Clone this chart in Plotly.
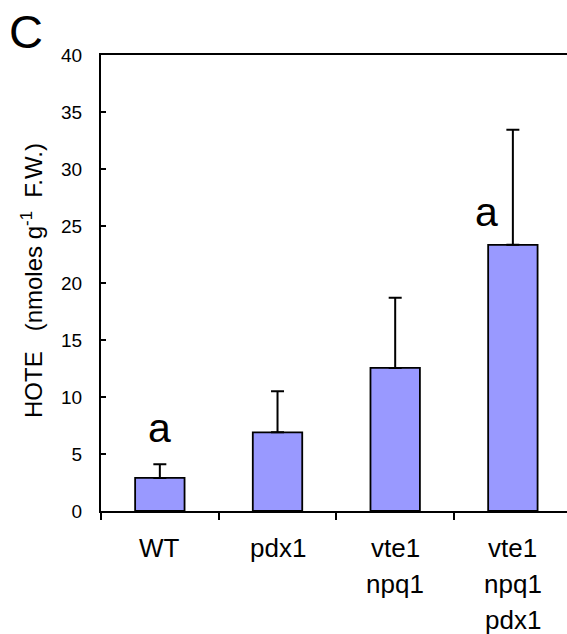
import plotly.graph_objects as go

categories = ["WT", "pdx1", "vte1 npq1", "vte1 npq1 pdx1"]
values = [2.9, 6.9, 12.55, 23.35]
errors = [1.2, 3.6, 6.15, 10.1]
letters = ["a", "", "", "a"]
letter_y = [7.3, None, None, 26.2]
letter_x = [0.0, None, None, 2.78]
y_ticks = [0, 5, 10, 15, 20, 25, 30, 35, 40]

FONT = "Liberation Sans, Arial, sans-serif"
W, H = 567, 634
plot_l, plot_r, plot_t, plot_b = 101, 567, 55, 511


def px_x(p):
    return (p - plot_l) / (plot_r - plot_l)


def px_y(p):
    return (plot_b - p) / (plot_b - plot_t)


fig = go.Figure()
fig.add_trace(go.Bar(
    x=list(range(len(categories))),
    y=values,
    width=0.42,
    marker=dict(color="#9999FF", line=dict(color="black", width=1.8)),
    error_y=dict(type="data", array=errors, arrayminus=[0] * len(errors),
                 symmetric=False, color="black", thickness=2, width=6.5),
))

annotations = []
for i, cat in enumerate(categories):
    for j, part in enumerate(cat.split(" ")):
        annotations.append(dict(
            x=i, y=px_y(548 + 36 * j), xref="x", yref="paper", text=part,
            showarrow=False, font=dict(family=FONT, size=26, color="black"),
            xanchor="center", yanchor="middle",
        ))
for lx, ly, t in zip(letter_x, letter_y, letters):
    if t:
        annotations.append(dict(
            x=lx, y=ly, xref="x", yref="y", text=t, showarrow=False,
            font=dict(family=FONT, size=41, color="black"),
            xanchor="center", yanchor="middle",
        ))
annotations.append(dict(
    x=px_x(32), y=px_y(281), xref="paper", yref="paper",
    text="HOTE&nbsp;&nbsp;&nbsp;(nmoles g<sup>-1</sup>&nbsp;&nbsp;F.W.)",
    textangle=-90, showarrow=False,
    font=dict(family=FONT, size=24, color="black"),
    xanchor="center", yanchor="middle",
))
annotations.append(dict(
    x=px_x(26), y=px_y(31), xref="paper", yref="paper", text="C",
    showarrow=False, font=dict(family=FONT, size=47, color="black"),
    xanchor="center", yanchor="middle",
))

fig.update_layout(
    width=W, height=H,
    margin=dict(l=plot_l, r=W - plot_r, t=plot_t, b=H - plot_b, pad=0),
    paper_bgcolor="white", plot_bgcolor="white",
    showlegend=False,
    annotations=annotations,
    font=dict(family=FONT, color="black"),
    xaxis=dict(
        range=[-0.5, 3.46], tickmode="array",
        tickvals=[-0.5, 0.5, 1.5, 2.5], showticklabels=False,
        ticks="outside", ticklen=7, tickwidth=2, tickcolor="black",
        showline=True, linecolor="black", linewidth=2, mirror=True,
        showgrid=False, zeroline=False,
    ),
    yaxis=dict(
        range=[0, 40], tickvals=y_ticks,
        ticks="inside", ticklen=5, tickwidth=2, tickcolor="black",
        showline=True, linecolor="black", linewidth=2,
        showgrid=False, zeroline=False,
        tickfont=dict(family=FONT, size=19, color="black"),
        ticklabelstandoff=13,
    ),
)

fig.write_html(
    "out.html",
    config={"displayModeBar": False},
    post_script="document.body.style.margin='0';document.body.style.overflow='hidden';",
)
